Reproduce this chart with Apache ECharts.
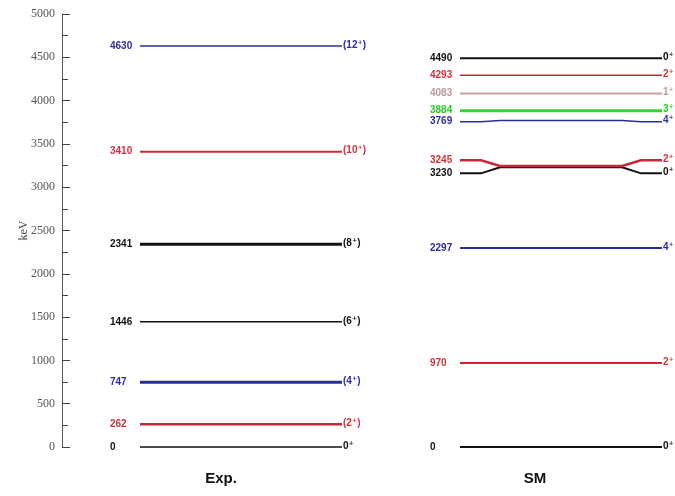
<!DOCTYPE html>
<html>
<head>
<meta charset="utf-8">
<script src="https://cdn.jsdelivr.net/npm/echarts@6/dist/echarts.min.js"></script>
<style>
  html, body { margin: 0; padding: 0; background: #fff; }
  #chart { width: 675px; height: 496px; }
</style>
</head>
<body>
<div id="chart"></div>
<script>
// Level energies (keV) and spin assignments
const expEnergies = [0, 262, 747, 1446, 2341, 3410, 4630];
const expSpins = ['0\u207A', '(2\u207A)', '(4\u207A)', '(6\u207A)', '(8\u207A)', '(10\u207A)', '(12\u207A)'];

const smEnergies = [0, 970, 2297, 3230, 3245, 3769, 3884, 4083, 4293, 4490];
const smSpins = ['0\u207A', '2\u207A', '4\u207A', '0\u207A', '2\u207A', '4\u207A', '3\u207A', '1\u207A', '2\u207A', '0\u207A'];
// where the end stubs and their labels sit, pulled apart where levels crowd
const smLabelEnergies = [0, 970, 2297, 3160, 3310, 3757, 3884, 4083, 4293, 4490];

const columnTitles = ['Exp.', 'SM'];

// ---- styling ----
const spinColors = {
  0: '#111111', 1: '#c9a3a3', 2: '#c8283a', 3: '#2fd82f', 4: '#2c2c98',
  6: '#111111', 8: '#111111', 10: '#c8283a', 12: '#2c2c98'
};
const labelColors = {
  0: '#111111', 1: '#b89a9a', 2: '#d23040', 3: '#22cc22', 4: '#2c2ca0',
  6: '#111111', 8: '#111111', 10: '#d23040', 12: '#2c2ca0'
};
const expWidths = [1.5, 2.5, 3, 1.5, 3, 2, 1.5];
const smWidths = [2, 2, 2, 2, 2.5, 1.5, 3, 2, 1.5, 2];

function spinOf(s) { return parseInt(s.replace(/[^0-9]/g, ''), 10); }

// column layout along the hidden x axis
const columns = [
  { labelX: 48, x0: 78, x1: 280 },
  { labelX: 368, x0: 398, x1: 600 }
];
const stub = 21, slant = 19;

function levelSeries(col, energies, labelEnergies, spins, widths) {
  const data = energies.map((e, i) => [col, e, labelEnergies[i], i]);
  return {
    type: 'custom',
    data: data,
    clip: false,
    renderItem: function (params, api) {
      const c = columns[api.value(0)];
      const e = api.value(1);
      const le = api.value(2);
      const i = api.value(3);
      const spin = spins[i];
      const J = spinOf(spin);
      const color = spinColors[J];
      let pts;
      if (le === e) {
        pts = [api.coord([c.x0, e]), api.coord([c.x1, e])];
      } else {
        pts = [
          api.coord([c.x0, le]),
          api.coord([c.x0 + stub, le]),
          api.coord([c.x0 + stub + slant, e]),
          api.coord([c.x1 - stub - slant, e]),
          api.coord([c.x1 - stub, le]),
          api.coord([c.x1, le])
        ];
      }
      const pL = api.coord([c.labelX, le]);
      const pR = api.coord([c.x1 + 1, le]);
      return {
        type: 'group',
        children: [
          {
            type: 'polyline',
            shape: { points: pts },
            style: { stroke: color, lineWidth: widths[i], fill: null }
          },
          {
            type: 'text',
            x: pL[0], y: pL[1],
            style: {
              text: String(energies[i]),
              fill: labelColors[J],
              font: 'bold 10px "Liberation Sans", Arial, sans-serif',
              align: 'left', verticalAlign: 'middle'
            }
          },
          {
            type: 'text',
            x: pR[0], y: pR[1] - 1,
            style: {
              text: spin,
              fill: labelColors[J],
              font: 'bold 10px "Liberation Sans", "DejaVu Sans", sans-serif',
              align: 'left', verticalAlign: 'middle'
            }
          }
        ]
      };
    }
  };
}

const chart = echarts.init(document.getElementById('chart'), null, { renderer: 'canvas' });

chart.setOption({
  animation: false,
  backgroundColor: '#ffffff',
  grid: { left: 62, right: 0, top: 14, bottom: 49 },
  xAxis: { type: 'value', min: 0, max: 613, show: false },
  yAxis: {
    type: 'value', min: 0, max: 5000, interval: 500,
    name: 'keV', nameLocation: 'middle', nameGap: 32, nameRotate: 90,
    nameMoveOverlap: false,
    nameTextStyle: { fontFamily: '"Liberation Serif", serif', fontSize: 12, color: '#444' },
    axisLine: { show: true, lineStyle: { color: '#555', width: 1 } },
    axisTick: { show: true, inside: true, length: 8, lineStyle: { color: '#444', width: 1 } },
    minorTick: { show: true, splitNumber: 2, length: 6, lineStyle: { color: '#444', width: 1 } },
    axisLabel: {
      fontFamily: '"Liberation Serif", serif', fontSize: 12, color: '#555', margin: 7,
      formatter: function (v) { return String(v); }
    },
    splitLine: { show: false }
  },
  graphic: [
    { type: 'text', x: 221, y: 479, style: { text: columnTitles[0], font: 'bold 15px "Liberation Sans", Arial, sans-serif', fill: '#111', align: 'center', verticalAlign: 'middle' } },
    { type: 'text', x: 535, y: 479, style: { text: columnTitles[1], font: 'bold 15px "Liberation Sans", Arial, sans-serif', fill: '#111', align: 'center', verticalAlign: 'middle' } }
  ],
  series: [
    levelSeries(0, expEnergies, expEnergies, expSpins, expWidths),
    levelSeries(1, smEnergies, smLabelEnergies, smSpins, smWidths)
  ]
});
</script>
</body>
</html>
